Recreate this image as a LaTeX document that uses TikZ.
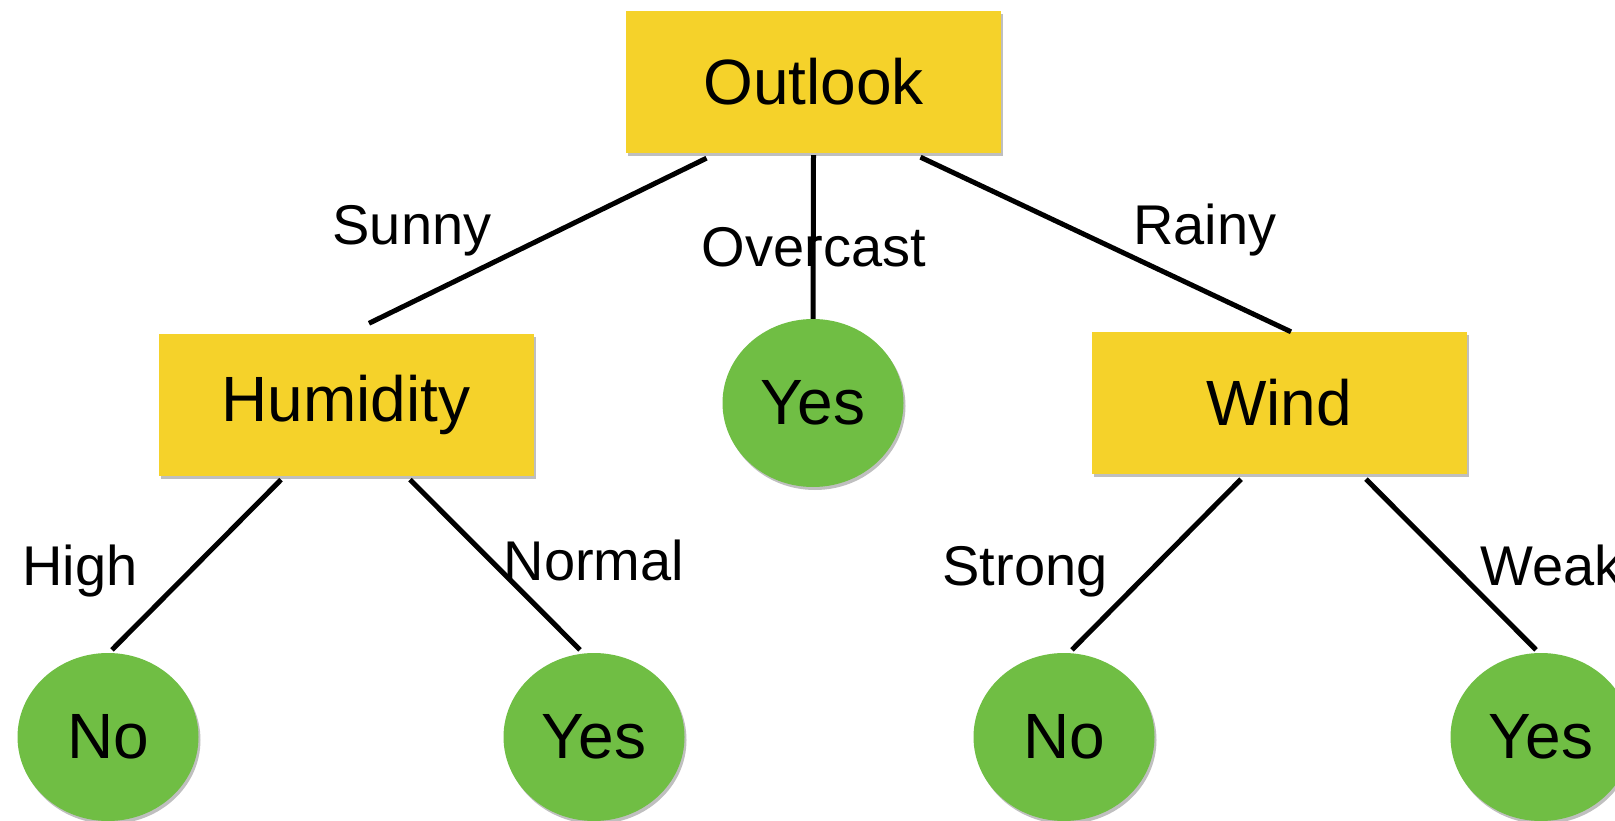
\documentclass[tikz,border=0pt]{standalone}
\usepackage{fontspec}
\setmainfont{Liberation Sans}
\usetikzlibrary{shapes.geometric,shadows}
\definecolor{boxyellow}{RGB}{245,210,42}
\definecolor{leafgreen}{RGB}{112,190,68}
\begin{document}
\begin{tikzpicture}[x=1pt,y=-1pt,
  shad/.style={drop shadow={shadow xshift=2pt,shadow yshift=-3pt,opacity=0.25,fill=black}},
  attr/.style={rectangle,fill=boxyellow,minimum width=375pt,minimum height=142pt,inner sep=0pt,
    font=\fontsize{64}{70}\selectfont,shad},
  leaf/.style={ellipse,fill=leafgreen,minimum width=181pt,minimum height=168pt,inner sep=0pt,
    font=\fontsize{64}{70}\selectfont,shad},
  lbl/.style={font=\fontsize{56}{60}\selectfont,anchor=base,inner sep=0pt},
  edge/.style={line width=5pt}]
\useasboundingbox (0,0) rectangle (1615,821);
\clip (0,0) rectangle (1615,821);
% decision nodes
\node[attr] (outlook) at (813.5,82) {Outlook};
\node[attr] (humid) at (346,404.5) {Humidity};
\node[attr] (wind) at (1279,403) {Wind};
% leaves
\node[leaf] (yes1) at (813,403) {Yes};
\node[leaf] (no1) at (108,737) {No};
\node[leaf] (yes2) at (594,737) {Yes};
\node[leaf] (no2) at (1064,737) {No};
\node[leaf] (yes3) at (1541,737) {Yes};
% edge labels
\node[lbl] (lsunny) at (412,245) {Sunny};
\node[lbl] (lover) at (814,266) {Overcast};
\node[lbl] (lrainy) at (1205,245) {Rainy};
\node[lbl] (lhigh) at (80,585) {High};
\node[lbl] (lnormal) at (594,580) {Normal};
\node[lbl] (lstrong) at (1025,585) {Strong};
\node[lbl,anchor=base west] (lweak) at (1480,585) {Weak};
% edges
\draw[edge] ([xshift=-107pt,yshift=-5pt]outlook.south) -- ([xshift=23pt,yshift=10pt]humid.north);
\draw[edge] ([yshift=-2pt]outlook.south) -- (yes1.north);
\draw[edge] ([xshift=107pt,yshift=-4pt]outlook.south) -- ([xshift=12pt]wind.north);
\draw[edge] ([xshift=-65pt,yshift=-4pt]humid.south) -- ([xshift=4pt,yshift=3pt]no1.north);
\draw[edge] ([xshift=64pt,yshift=-4pt]humid.south) -- ([xshift=-14pt,yshift=3pt]yes2.north);
\draw[edge] ([xshift=-38pt,yshift=-5pt]wind.south) -- ([xshift=8pt,yshift=3pt]no2.north);
\draw[edge] ([xshift=87pt,yshift=-5pt]wind.south) -- ([xshift=-5pt,yshift=3pt]yes3.north);
\end{tikzpicture}
\end{document}
